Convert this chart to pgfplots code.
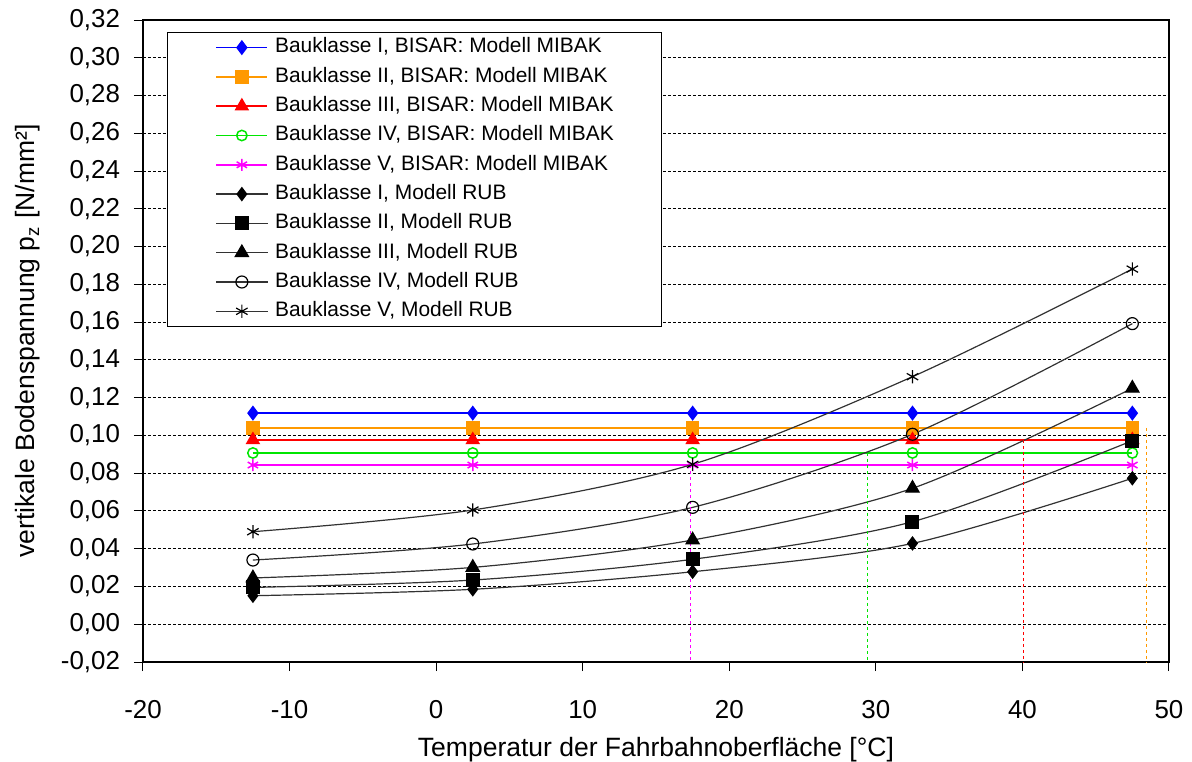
\documentclass[border=0pt]{standalone}
\usepackage{fontspec}
\setmainfont{Liberation Sans}
\usepackage{pgfplots}
\pgfplotsset{compat=1.18}
\definecolor{mblue}{RGB}{0,0,255}
\definecolor{morange}{RGB}{255,153,0}
\definecolor{mred}{RGB}{255,0,0}
\definecolor{mgreen}{RGB}{0,230,0}
\definecolor{mmag}{RGB}{255,0,255}
\definecolor{rubline}{RGB}{50,50,50}
\begin{document}
\begin{tikzpicture}
\useasboundingbox (-71.5bp,-50bp) rectangle (524.5bp,331bp);
\begin{axis}[
  at={(0,0)}, anchor=south west,
  scale only axis, width=513bp, height=321bp,
  xmin=-20, xmax=50, ymin=-0.02, ymax=0.32,
  xtick={-20,-10,0,10,20,30,40,50},
  xticklabels={-20,-10,0,10,20,30,40,50},
  ytick={-0.02,0,0.02,0.04,0.06,0.08,0.10,0.12,0.14,0.16,0.18,0.20,0.22,0.24,0.26,0.28,0.30,0.32},
  yticklabels={{-0,02},{0,00},{0,02},{0,04},{0,06},{0,08},{0,10},{0,12},{0,14},{0,16},{0,18},{0,20},{0,22},{0,24},{0,26},{0,28},{0,30},{0,32}},
  tick align=outside, xtick pos=left, ytick pos=left,
  major tick length=4.5bp,
  tick style={black, line width=0.5bp},
  ymajorgrids,
  grid style={black, line width=0.5bp, dash pattern=on 1.5bp off 1bp},
  axis line style={black, line width=0.7bp},
  ticklabel style={font=\fontsize{13}{15}\selectfont},
  yticklabel style={xshift=-3.5bp},
  xticklabel style={yshift=-11bp},
  xlabel={Temperatur der Fahrbahnoberfläche [°C]},
  ylabel={vertikale Bodenspannung p\textsubscript{z} [N/mm²]},
  every axis x label/.style={at={(axis description cs:0.5,-0.137)}, anchor=center, font=\fontsize{13.3}{16}\selectfont},
  every axis y label/.style={at={(axis description cs:-0.112,0.5)}, rotate=90, anchor=center, font=\fontsize{13.3}{16}\selectfont},
  legend cell align=left,
  legend image code/.code={\path (0bp,0bp);
    \draw[mark repeat=2,mark phase=2] plot coordinates {(0bp,0bp) (12.75bp,0bp) (25.5bp,0bp)};},
  legend style={at={(axis description cs:0.0234,0.981)}, anchor=north west,
    draw=black, line width=0.6bp, fill=white,
    font=\fontsize{10.5}{12}\selectfont,
    inner xsep=24bp, inner ysep=2.5bp, row sep=4.85bp,
    nodes={inner xsep=0bp, inner ysep=0bp, text height=7.6bp, text depth=2.2bp},
    /tikz/every odd column/.append style={column sep=3.5bp}},
]
% MIBAK (BISAR)
\addplot[color=mblue, line width=0.75bp, mark=diamond*, mark size=3.2bp, mark options={solid, fill=mblue}]
  coordinates {(-12.5,0.1118) (2.5,0.1118) (17.5,0.1118) (32.5,0.1118) (47.5,0.1118)};
\addlegendentry{Bauklasse I, BISAR: Modell MIBAK}
\addplot[color=morange, line width=0.75bp, mark=square*, mark size=3bp, mark options={solid, fill=morange}]
  coordinates {(-12.5,0.1040) (2.5,0.1040) (17.5,0.1040) (32.5,0.1040) (47.5,0.1040)};
\addlegendentry{Bauklasse II, BISAR: Modell MIBAK}
\addplot[color=mred, line width=0.75bp, mark=triangle*, mark size=3.5bp, mark options={solid, fill=mred}]
  coordinates {(-12.5,0.0976) (2.5,0.0976) (17.5,0.0976) (32.5,0.0976) (47.5,0.0976)};
\addlegendentry{Bauklasse III, BISAR: Modell MIBAK}
\addplot[color=mgreen, line width=0.75bp, mark=o, mark size=2.6bp, mark options={solid, fill=white}]
  coordinates {(-12.5,0.0907) (2.5,0.0907) (17.5,0.0907) (32.5,0.0907) (47.5,0.0907)};
\addlegendentry{Bauklasse IV, BISAR: Modell MIBAK}
\addplot[color=mmag, line width=0.75bp, mark=asterisk, mark size=3bp, mark options={solid}]
  coordinates {(-12.5,0.0843) (2.5,0.0843) (17.5,0.0843) (32.5,0.0843) (47.5,0.0843)};
\addlegendentry{Bauklasse V, BISAR: Modell MIBAK}
% RUB
\addplot[color=rubline, line width=0.6bp, smooth, mark=diamond*, mark size=3.2bp, mark options={solid, black, fill=black}]
  coordinates {(-12.5,0.0151) (2.5,0.0185) (17.5,0.0278) (32.5,0.0428) (47.5,0.0773)};
\addlegendentry{Bauklasse I, Modell RUB}
\addplot[color=rubline, line width=0.6bp, smooth, mark=square*, mark size=3.2bp, mark options={solid, black, fill=black}]
  coordinates {(-12.5,0.0195) (2.5,0.0234) (17.5,0.0344) (32.5,0.0543) (47.5,0.0972)};
\addlegendentry{Bauklasse II, Modell RUB}
\addplot[color=rubline, line width=0.6bp, smooth, mark=triangle*, mark size=3.8bp, mark options={solid, black, fill=black}]
  coordinates {(-12.5,0.0245) (2.5,0.0301) (17.5,0.0446) (32.5,0.0720) (47.5,0.1250)};
\addlegendentry{Bauklasse III, Modell RUB}
\addplot[color=rubline, line width=0.6bp, smooth, mark=o, mark size=3bp, mark options={solid, black, fill=white}]
  coordinates {(-12.5,0.0340) (2.5,0.0425) (17.5,0.0619) (32.5,0.1006) (47.5,0.1592)};
\addlegendentry{Bauklasse IV, Modell RUB}
\addplot[color=rubline, line width=0.6bp, smooth, mark=asterisk, mark size=3.3bp, mark options={solid, black}]
  coordinates {(-12.5,0.0490) (2.5,0.0605) (17.5,0.0847) (32.5,0.1311) (47.5,0.1881)};
\addlegendentry{Bauklasse V, Modell RUB}
% intersection markers
\addplot[forget plot, color=mmag, line width=0.6bp, dash pattern=on 1.5bp off 1.5bp] coordinates {(17.38,0.0843) (17.38,-0.02)};
\addplot[forget plot, color=mgreen, line width=0.6bp, dash pattern=on 1.5bp off 1.5bp] coordinates {(29.43,0.0907) (29.43,-0.02)};
\addplot[forget plot, color=mred, line width=0.6bp, dash pattern=on 1.5bp off 1.5bp] coordinates {(40.05,0.0976) (40.05,-0.02)};
\addplot[forget plot, color=morange, line width=0.6bp, dash pattern=on 1.5bp off 1.5bp] coordinates {(48.49,0.1040) (48.49,-0.02)};
\end{axis}
\end{tikzpicture}
\end{document}
